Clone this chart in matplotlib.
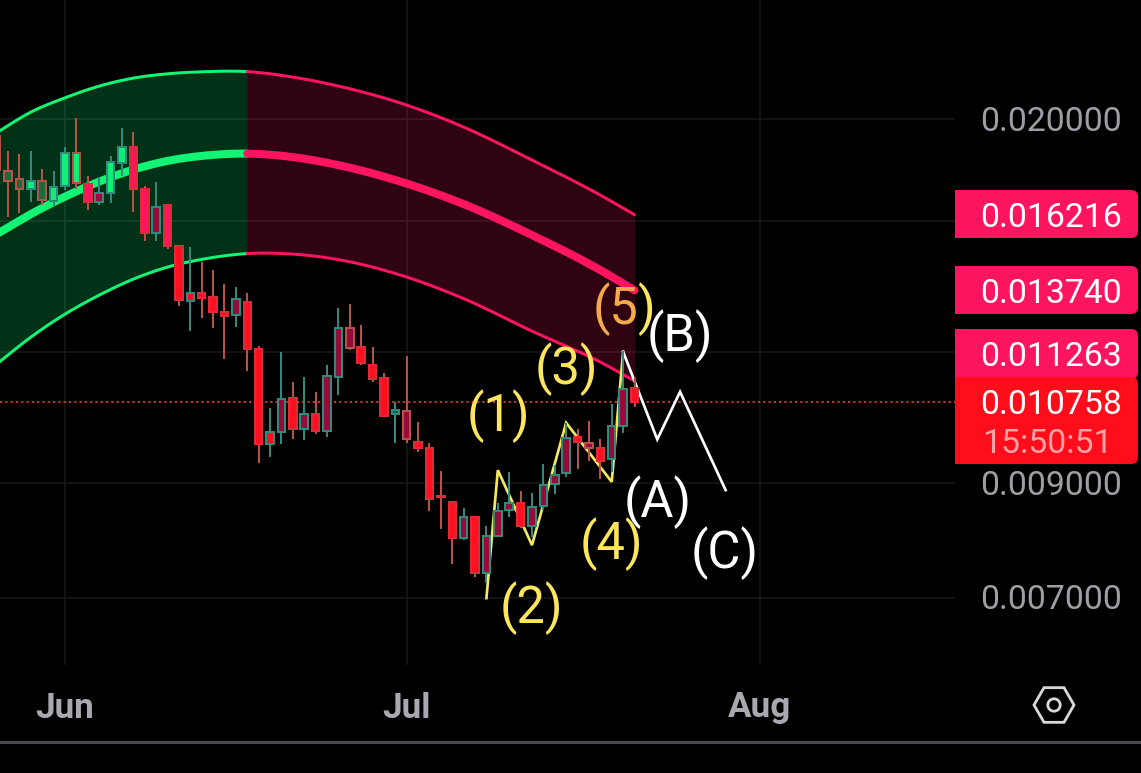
import math
import numpy as np
import matplotlib
matplotlib.use("Agg")
import matplotlib.pyplot as plt
from matplotlib.patches import Rectangle, FancyBboxPatch, RegularPolygon, Circle
from matplotlib.transforms import ScaledTranslation

plt.rcParams['font.family'] = ['Roboto', 'DejaVu Sans']

# ---- data (prices in millionths; days counted from 1 June) ----
days = list(range(-6, 51))
highs = [19268,18644,18522,18658,17909,17831,18795,20029,17649,17598,18441,19595,19424,17267,17406,16598,15182,15093,14626,14361,13927,13846,13664,12165,10603,11988,11225,11349,10989,11660,13203,13329,12729,12120,11449,10759,11892,10282,9833,9241,8659,8514,8372,8191,8608,9214,8844,8812,9377,9363,10259,10125,10312,9920,10704,12032,11365]
body_tops = [19268,17857,17521,17444,17444,17241,18549,18549,17330,17016,18187,18795,18795,17141,16501,16562,15126,13664,13664,13545,13097,13466,13397,12085,10074,10830,10853,10479,10479,11382,12655,12636,12120,11668,11324,10556,10533,9855,9712,8748,8640,8360,8360,8019,8465,8621,8608,8545,8961,9160,9935,9964,9833,9726,10207,11070,11078]
body_bottoms = [17883,17470,17166,17166,16744,16720,17267,17368,16683,16683,17016,18173,17141,15564,15564,15148,13437,13427,13515,13097,12992,13002,12085,9797,9797,10059,10125,10125,10096,10081,11365,12112,11702,11315,10433,10464,9906,9712,8697,8722,7972,7972,7383,7394,8019,8483,8191,8191,8558,8981,9194,9848,9712,9439,9487,10200,10759]
lows = [17883,16143,16286,16683,16562,16525,17116,17166,16381,16562,16647,17649,16321,15315,15315,15027,13280,12572,12935,12655,11823,12682,11516,9398,9536,9797,9913,9891,10022,9964,10917,12050,11668,11233,10410,9833,9833,9641,8471,8143,7536,7943,7318,7223,8001,8360,8149,8001,8483,8780,9127,9275,9453,9073,9227,10051,10641]
rising = [0,0,0,1,0,1,1,0,0,1,1,1,0,0,1,0,0,1,0,0,0,1,0,0,1,1,0,1,0,1,1,0,0,0,0,1,0,0,0,0,0,1,0,1,1,1,0,1,1,1,1,0,0,0,1,1,0]
state = "ddd" "gdgg" "gpmgg" "ppmp" "rrrrrm" "rr" "rmrmr" "mmm" "rrr" "dm" "rrrr" "mrmmm" "rmmmm" "rmrm" "mr"

band_days = [-6,-3,0,3,6,9,12,16,20,24,30,35,41,47,50]
band_upper = [19416,20309,20957,21502,21882,22089,22186,22196,21930,21502,20624,19652,18280,16929,16216]
band_mid = [15541,16238,16873,17438,17903,18248,18449,18542,18401,18080,17362,16598,15507,14362,13740]
band_lower = [11685,12398,13039,13594,14080,14456,14703,14890,14874,14695,14142,13490,12562,11737,11263]
band_turn = 16

wave_days = [37,38,41,44,48,49]
wave_prices = [6994,9261,7856,10274,9026,12005]
corr_days = [49,52,54,58]
corr_prices = [12005,9906,10996,8864]
last_price = 10758

price_ticks = [20000,16000,12000,9000,7000]
price_tick_labels = ["0.020000","","","0.009000","0.007000"]
month_days = [0,30,61]
month_labels = ["Jun","Jul","Aug"]
tag_prices = ["0.016216","0.013740","0.011263","0.010758"]
countdown = "15:50:51"
wave_labels = ["(1)","(2)","(3)","(4)"]
corr_labels = ["(A)","(B)","(C)"]

# ---- styles ----
W, H = 1141, 773
BG = "#000000"
GREEN = "#12f574"
PINK = "#ff1460"
RED = "#ff0d1a"
FILLS = {"g":"#10ee78", "d":"#1a6a3a", "p":"#ff1460", "r":"#ff1020", "m":"#950c3a"}
EDGE_UP = "#2f8a7c"
EDGE_DOWN = "#b5534a"
EDGE_BRIGHT = "#dd2c38"
GREY = "#9e9ea4"
YELLOW = "#fde65e"
ORANGE = "#f6a94c"
LABEL_SIZE = 36.5

def px(v):
    return v * 72 / 100

def smooth(x, y):
    """Draw a smooth curve through the read points (cubic Hermite in log price)."""
    x = np.asarray(x, float)
    ly = np.log(np.asarray(y, float))
    m = np.gradient(ly, x)
    xs, ys = [], []
    for i in range(len(x) - 1):
        h = x[i+1] - x[i]
        t = np.linspace(0, 1, 24, endpoint=False)
        v = ((2*t**3 - 3*t**2 + 1)*ly[i] + (t**3 - 2*t**2 + t)*h*m[i]
             + (-2*t**3 + 3*t**2)*ly[i+1] + (t**3 - t**2)*h*m[i+1])
        xs.append(x[i] + t*h)
        ys.append(v)
    xs.append(x[-1:])
    ys.append(ly[-1:])
    return np.concatenate(xs), np.exp(np.concatenate(ys))

fig = plt.figure(figsize=(W/100, H/100), dpi=100, facecolor=BG)
ax = fig.add_axes([0, (H-665)/H, 955/W, 665/H], facecolor=BG)
ax.set_yscale("log")
ax.set_xlim(-5.71, 78.14)
ax.set_ylim(6040e-6, 25970e-6)
for s in ax.spines.values():
    s.set_visible(False)

to_price = lambda a: np.array(a, dtype=float) * 1e-6

ax.set_xticks(month_days, month_labels)
ax.set_yticks(to_price(price_ticks), price_tick_labels)
ax.minorticks_off()
ax.yaxis.tick_right()
ax.tick_params(axis="x", length=0, pad=px(26.5), labelsize=px(35), labelcolor="#a8a8b0")
ax.tick_params(axis="y", length=0, pad=px(25), labelsize=24.3, labelcolor=GREY)
for t in ax.get_xticklabels():
    t.set_fontweight("bold")
for t in ax.get_yticklabels():
    t.set_transform(t.get_transform() + ScaledTranslation(0, 1/100, fig.dpi_scale_trans))
ax.grid(True, color="#18181a", lw=px(1.5), zorder=0)
ax.set_axisbelow(True)

# bands
sx, su = smooth(band_days, to_price(band_upper))
_, sm = smooth(band_days, to_price(band_mid))
_, sl = smooth(band_days, to_price(band_lower))
g = sx <= band_turn
r = sx >= band_turn
ax.fill_between(sx[g], sl[g], su[g], color="#0aff78", alpha=0.2, lw=0, zorder=1)
ax.fill_between(sx[r], sl[r], su[r], color=PINK, alpha=0.19, lw=0, zorder=1)
for arr, w in ((su, 3), (sl, 3), (sm, 8)):
    ax.plot(sx[g], arr[g], color=GREEN, lw=px(w), zorder=2, solid_capstyle="round")
    ax.plot(sx[r], arr[r], color=PINK, lw=px(w), zorder=2, solid_capstyle="round")

# last price line
ax.axhline(last_price*1e-6, color="#c03a2a", lw=px(2), linestyle=(0, (1.1, 1.55)), zorder=2)

# wave drawings
ax.plot(wave_days, to_price(wave_prices), color="#f3e860", lw=px(2.7), zorder=3, solid_joinstyle="miter")
ax.plot(corr_days, to_price(corr_prices), color="#ffffff", lw=px(2.7), zorder=3, solid_joinstyle="miter")

# candles
wick_colors = [EDGE_UP if u else EDGE_DOWN for u in rising]
body_edges = [EDGE_UP if u else (EDGE_BRIGHT if c in "rp" else EDGE_DOWN) for u, c in zip(rising, state)]
fills = [FILLS[c] for c in state]
ax.vlines(days, to_price(lows), to_price(highs), colors=wick_colors, lw=px(2), zorder=4)
ax.bar(days, to_price(body_tops)-to_price(body_bottoms), bottom=to_price(body_bottoms), width=0.66,
       color=fills, edgecolor=body_edges, linewidth=px(2), zorder=5)

# overlay in pixel space: price tags, labels, icon
ov = fig.add_axes([0, 0, 1, 1], facecolor="none")
ov.set_xlim(0, W)
ov.set_ylim(H, 0)
ov.axis("off")

clip = Rectangle((955, 0), 300, H, transform=ov.transData)
tags = [(190, 238, PINK), (266, 314, PINK), (329, 379, PINK), (377, 464, RED)]
for y0, y1, c in tags:
    p = FancyBboxPatch((930, y0), 208, y1-y0, boxstyle="round,pad=0,rounding_size=7", fc=c, ec="none", zorder=6)
    ov.add_patch(p)
    p.set_clip_path(clip)
for label, y in zip(tag_prices, (218, 294, 357, 405)):
    ov.text(1122, y, label, color="#ffffff", fontsize=24.3, ha="right", va="center", zorder=7)
ov.text(982, 444, countdown, color="#ffa2a6", fontsize=24.3, ha="left", va="center", zorder=7)

for label, (x, y) in zip(wave_labels, ((498, 416), (531, 608), (566, 369), (611, 544))):
    ov.text(x, y, label, color=YELLOW, fontsize=LABEL_SIZE, ha="center", va="center", zorder=6)
ov.text(638, 309, "(5", color=ORANGE, fontsize=LABEL_SIZE, ha="right", va="center", zorder=6)
ov.text(638, 309, ")", color=YELLOW, fontsize=LABEL_SIZE, ha="left", va="center", zorder=6)
for label, (x, y) in zip(corr_labels, ((658, 502), (680, 336), (725, 553))):
    ov.text(x, y, label, color="#ffffff", fontsize=LABEL_SIZE, ha="center", va="center", zorder=6)

ov.add_patch(RegularPolygon((1054, 705), 6, radius=20, orientation=math.pi/6, fc="none", ec="#d8d8d8", lw=px(2.8)))
ov.add_patch(Circle((1054, 705), 6.2, fc="none", ec="#d8d8d8", lw=px(2.8)))
ov.add_patch(Rectangle((0, 741), W, 3, fc="#4a4a54", ec="none"))

fig.savefig("out.png", dpi=100, facecolor=BG)
